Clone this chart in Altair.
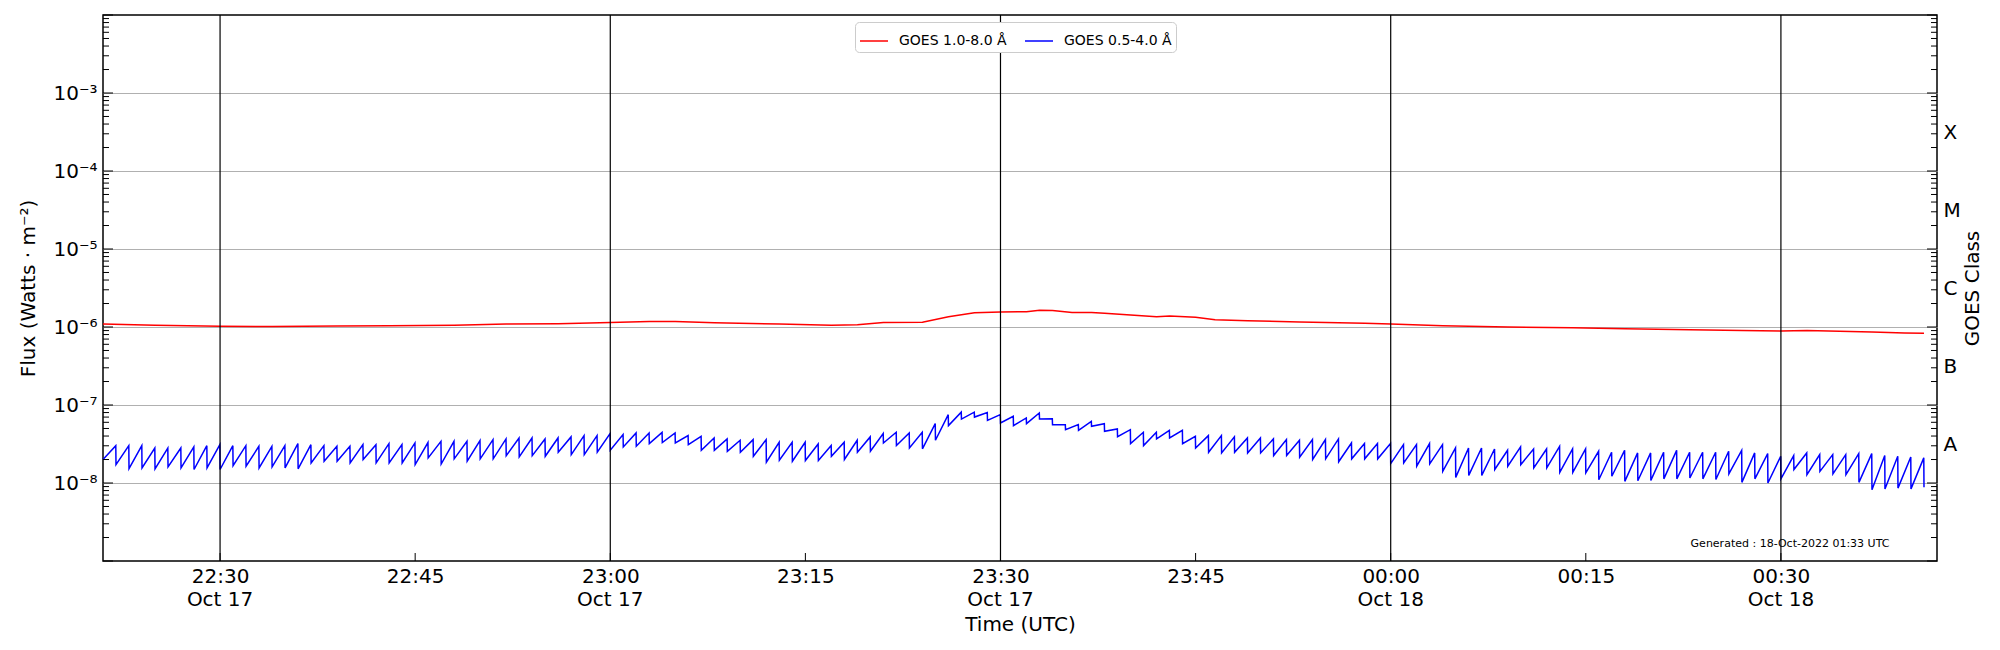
import altair as alt
import pandas as pd

# ---------------- data ----------------
START = pd.Timestamp("2022-10-17T22:21:00Z")
END = pd.Timestamp("2022-10-18T00:42:00Z")

# GOES 0.5-4.0 A: flux (x1e-8 W m^-2) at the start of each minute (after the drop), 22:21 ... 00:41
blue_low = [2.00,
    1.72, 1.53, 1.56, 1.52, 1.61, 1.56, 1.49, 1.56, 1.49, 1.67, 1.64, 1.56, 1.61, 1.56, 1.52, 1.81, 1.90, 1.90, 1.81, 2.00, 1.81, 1.81, 1.81,
    1.72, 2.10, 1.75, 2.04, 1.90, 2.04, 2.04, 2.24, 2.16, 2.24, 2.20, 2.48, 2.31, 2.31, 2.48, 2.63, 2.90, 2.96, 3.20, 3.30, 3.26, 3.10, 2.63,
    2.62, 2.55, 2.48, 2.20, 1.85, 1.96, 1.90, 1.94, 1.94, 2.20, 2.00, 2.48, 2.55, 3.26, 3.02, 2.81, 2.74, 3.53, 5.44, 6.60, 7.00, 6.36, 5.88,
    5.43, 5.77, 6.62, 5.60, 4.83, 4.74, 5.33, 4.60, 3.93, 3.20, 3.02, 3.67, 3.78, 3.20, 2.81, 2.48, 2.43, 2.48, 2.43, 2.43, 2.25, 2.25, 2.14,
    2.00, 2.04, 1.87, 2.04, 2.04, 2.04, 1.77, 1.81, 1.64, 1.76, 1.41, 1.18, 1.25, 1.25, 1.49, 1.64, 1.72, 1.56, 1.56, 1.37, 1.37, 1.35, 1.10,
    1.22, 1.05, 1.07, 1.08, 1.13, 1.13, 1.16, 1.13, 1.11, 1.31, 1.02, 1.13, 1.00, 1.13, 1.49, 1.28, 1.41, 1.31, 1.28, 1.02, 0.82, 0.84, 0.86, 0.84, 0.88]

# GOES 0.5-4.0 A: flux (x1e-8) at the end of each minute (just before the drop)
blue_high = [
    3.01, 3.01, 3.01, 2.81, 2.81, 2.81, 2.90, 3.01, 3.10, 3.01, 3.01, 2.95, 2.95, 3.01, 3.20, 3.10, 3.01, 2.95, 2.95, 3.10, 3.10, 3.20, 3.10,
    3.26, 3.30, 3.42, 3.42, 3.42, 3.50, 3.60, 3.67, 3.78, 3.78, 3.67, 3.78, 3.90, 4.05, 4.05, 4.30, 4.17, 4.38, 4.38, 4.45, 4.38, 4.05, 3.97,
    3.78, 3.67, 3.53, 3.60, 3.60, 3.33, 3.33, 3.33, 3.16, 3.02, 3.33, 3.53, 3.90, 4.30, 4.47, 4.38, 4.47, 5.77, 7.52, 8.10, 8.10, 8.00, 7.52,
    7.16, 6.82, 7.90, 6.68, 5.60, 5.60, 6.18, 5.75, 4.93, 4.83, 4.47, 4.47, 4.74, 4.74, 3.97, 4.05, 4.05, 3.90, 3.78, 3.78, 3.67, 3.60, 3.53,
    3.60, 3.60, 3.67, 3.26, 3.20, 3.20, 3.20, 3.10, 3.10, 3.20, 3.10, 2.81, 2.81, 2.81, 2.73, 2.63, 2.90, 2.73, 2.73, 2.95, 2.73, 2.73, 2.55,
    2.48, 2.62, 2.43, 2.43, 2.48, 2.62, 2.48, 2.48, 2.48, 2.55, 2.62, 2.43, 2.38, 2.20, 2.25, 2.43, 2.31, 2.31, 2.31, 2.38, 2.38, 2.25, 2.20, 2.15, 2.10]
BLUE_UNIT = 1e-8

# GOES 1.0-8.0 A: minutes after 22:21 and flux (x1e-6 W m^-2)
red_minutes = [0, 4, 9, 13, 18, 22, 27, 31, 35, 39, 42, 44, 47, 52, 56, 58, 60, 63, 65, 67,
               69, 71, 72, 73, 74.5, 76, 77, 79, 81, 82, 84, 85.5, 88, 92, 97, 99, 103, 108, 113, 117,
               122, 126, 129, 131, 133.5, 136, 138.5, 140]
red_flux = [1.09, 1.05, 1.02, 1.015, 1.03, 1.035, 1.055, 1.09, 1.10, 1.14, 1.18, 1.18, 1.13, 1.09, 1.055, 1.07, 1.14, 1.15, 1.35, 1.52,
            1.56, 1.57, 1.64, 1.63, 1.53, 1.53, 1.50, 1.42, 1.35, 1.38, 1.33, 1.24, 1.20, 1.16, 1.12, 1.09, 1.04, 1.00, 0.98, 0.95,
            0.92, 0.90, 0.89, 0.90, 0.88, 0.86, 0.835, 0.83]
RED_UNIT = 1e-6

LAB_RED = "GOES 1.0-8.0 Å"
LAB_BLUE = "GOES 0.5-4.0 Å"

x_tick_times = ["2022-10-17T22:30:00Z", "2022-10-17T22:45:00Z", "2022-10-17T23:00:00Z",
                "2022-10-17T23:15:00Z", "2022-10-17T23:30:00Z", "2022-10-17T23:45:00Z",
                "2022-10-18T00:00:00Z", "2022-10-18T00:15:00Z", "2022-10-18T00:30:00Z"]
vline_times = ["2022-10-17T22:30:00Z", "2022-10-17T23:00:00Z", "2022-10-17T23:30:00Z",
               "2022-10-18T00:00:00Z", "2022-10-18T00:30:00Z"]
date_labels = ["Oct 17", "Oct 17", "Oct 17", "Oct 18", "Oct 18"]
y_label_decades = [1e-8, 1e-7, 1e-6, 1e-5, 1e-4, 1e-3]
major_decades = [1e-9, 1e-8, 1e-7, 1e-6, 1e-5, 1e-4, 1e-3, 1e-2]
class_letters = ["A", "B", "C", "M", "X"]
class_exponents = [-7.5, -6.5, -5.5, -4.5, -3.5]
generated_text = "Generated : 18-Oct-2022 01:33 UTC"

# ---------------- build tables ----------------
def iso(ts):
    return ts.strftime("%Y-%m-%dT%H:%M:%SZ")

def ms(s):
    return int(pd.Timestamp(s).value // 10**6)

rows = []
for m, v in zip(red_minutes, red_flux):
    rows.append({"time": iso(START + pd.Timedelta(minutes=m)), "flux": v * RED_UNIT, "channel": LAB_RED})
for m in range(len(blue_high)):
    rows.append({"time": iso(START + pd.Timedelta(minutes=m)), "flux": blue_low[m] * BLUE_UNIT, "channel": LAB_BLUE})
    rows.append({"time": iso(START + pd.Timedelta(minutes=m, seconds=59)), "flux": blue_high[m] * BLUE_UNIT, "channel": LAB_BLUE})
rows.append({"time": iso(START + pd.Timedelta(minutes=len(blue_high))), "flux": blue_low[-1] * BLUE_UNIT, "channel": LAB_BLUE})
df = pd.DataFrame(rows)

minor_ticks = [j * d for d in major_decades[:-1] for j in range(2, 10)]
major_df = pd.DataFrame({"v": major_decades})
minor_df = pd.DataFrame({"v": minor_ticks})
class_df = pd.DataFrame({"c": [10 ** e for e in class_exponents], "letter": class_letters})
xt_df = pd.DataFrame({"time": x_tick_times})
vl_df = pd.DataFrame({"time": vline_times, "date": date_labels})

W, H = 1834, 546
FONT = "DejaVu Sans"

xscale = alt.Scale(type="utc", domain=[ms(iso(START)), ms(iso(END))])
yscale = alt.Scale(type="log", domain=[1e-9, 1e-2], nice=False)

x_axis = alt.Axis(
    values=[ms(t) for t in x_tick_times],
    format="%H:%M",
    labelFontSize=20, labelFont=FONT, labelColor="black",
    labelPadding=5, labelFlush=False, labelOverlap=False, labelBaseline="top", labelAlign="center",
    ticks=False, tickSize=0, domain=False, grid=False,
    title="Time (UTC)", titleFontSize=20, titleFont=FONT, titleFontWeight="normal", titleColor="black",
    titleY=63, titleBaseline="middle",
)
X = alt.X("time:T", scale=xscale, axis=x_axis)

y_axis = alt.Axis(
    values=y_label_decades,
    labelExpr="'10⁻' + ['⁰','¹','²','³','⁴','⁵','⁶','⁷','⁸','⁹'][round(-log(datum.value) / LN10)]",
    labelFontSize=20, labelFont=FONT, labelColor="black", labelPadding=6, labelOverlap=False,
    ticks=False, tickSize=0, domain=False,
    grid=True, gridColor="#b0b0b0", gridWidth=1.2,
    title="Flux (Watts · m⁻²)", titleFontSize=20, titleFont=FONT, titleFontWeight="normal", titleColor="black",
    titleAngle=270, titleX=-75, titleY=H / 2, titleAlign="center", titleBaseline="middle",
)

vlines = alt.Chart(vl_df).mark_rule(color="black", strokeWidth=1.2).encode(x=X)

# second line of the tick labels (date under :00 / :30 ticks)
date_text = alt.Chart(vl_df).mark_text(
    font=FONT, fontSize=20, color="black", align="center", baseline="middle"
).encode(x=X, y=alt.value(H + 39), text="date:N")

lines = alt.Chart(df).mark_line(strokeWidth=1.5).encode(
    x=X,
    y=alt.Y("flux:Q", scale=yscale, axis=y_axis),
    color=alt.Color("channel:N",
                    scale=alt.Scale(domain=[LAB_RED, LAB_BLUE], range=["#ff0000", "#0000ff"]),
                    legend=alt.Legend(orient="none", legendX=752, legendY=7, direction="horizontal",
                                      title=None, symbolType="stroke", symbolSize=784, symbolStrokeWidth=1.5,
                                      labelFontSize=14, labelFont=FONT, labelColor="black", labelOffset=10,
                                      columnPadding=15, padding=4, strokeColor="#cccccc", fillColor="white",
                                      cornerRadius=4, labelLimit=400)),
)

def yticks(data, x0, x1):
    return alt.Chart(data).mark_rule(color="black", strokeWidth=1).encode(
        y=alt.Y("v:Q", scale=yscale, axis=None), x=alt.value(x0), x2=alt.value(x1)
    )

left_major = yticks(major_df, 0, 10)
left_minor = yticks(minor_df, 0, 6)
right_major = yticks(major_df, W, W - 10)
right_minor = yticks(minor_df, W, W - 6)

bottom_ticks = alt.Chart(xt_df).mark_rule(color="black", strokeWidth=1).encode(
    x=X, y=alt.value(H), y2=alt.value(H - 8)
)

class_axis = alt.Chart(class_df).mark_point(opacity=0).encode(
    y=alt.Y("c:Q", scale=yscale, axis=alt.Axis(
        orient="right", values=[10 ** e for e in class_exponents],
        labelExpr="datum.value < 1e-7 ? 'A' : datum.value < 1e-6 ? 'B' : datum.value < 1e-5 ? 'C' : datum.value < 1e-4 ? 'M' : 'X'",
        labelFontSize=20, labelFont=FONT, labelColor="black", labelPadding=6, labelOverlap=False,
        ticks=False, tickSize=0, domain=False, grid=False,
        title="GOES Class", titleFontSize=20, titleFont=FONT, titleFontWeight="normal", titleColor="black",
        titleAngle=270, titleX=35, titleY=H / 2, titleAlign="center", titleBaseline="middle")),
)

gen = alt.Chart(pd.DataFrame({"txt": [generated_text]})).mark_text(
    font=FONT, fontSize=11, color="black", align="center", baseline="middle"
).encode(text="txt:N", x=alt.value(1687), y=alt.value(529))

chart = alt.layer(
    lines, vlines, date_text, left_major, left_minor, right_major, right_minor, bottom_ticks, class_axis, gen
).resolve_axis(y="independent").properties(
    width=W, height=H,
    padding={"left": 95, "top": 7, "right": 50, "bottom": 78},
    autosize=alt.AutoSizeParams(type="none"),
).configure(font=FONT).configure_view(stroke="black", strokeWidth=1.5)

chart.save("out.html", embed_options={"renderer": "svg", "actions": False})
